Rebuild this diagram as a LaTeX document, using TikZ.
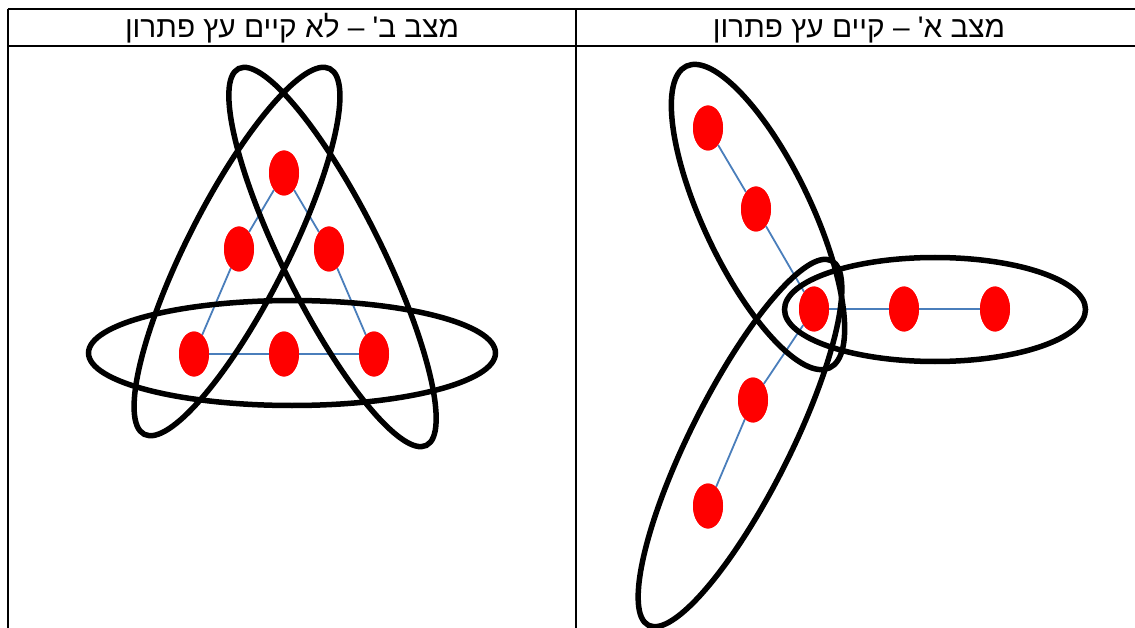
\documentclass[tikz,border=0pt]{standalone}
\usepackage{fontspec}
\usetikzlibrary{shapes.geometric}
\TeXXeTstate=1
\newfontfamily\hebfont[Script=Hebrew,Ligatures=ResetAll]{Liberation Sans}
\definecolor{linkblue}{HTML}{4A7EBB}
\definecolor{dotred}{HTML}{FF0000}
\tikzset{
  dot/.style={ellipse, fill=dotred, draw=none, minimum width=30pt, minimum height=45pt, inner sep=0pt},
  link/.style={draw=linkblue, line width=1.8pt},
  ring/.style={draw=black, line width=5.5pt},
  grid/.style={draw=black, line width=2pt},
  hdr/.style={anchor=base, inner sep=0pt, font=\hebfont\fontsize{29.8}{34}\selectfont}
}
\begin{document}
\begin{tikzpicture}[x=1pt,y=1pt]
\useasboundingbox (0,0) rectangle (1135,-628);
\clip (0,0) rectangle (1135,-628);
% table
\coordinate (tl) at (7.5,-9);
\coordinate (tr) at (1145,-9);
\coordinate (hl) at (7.5,-46.5);
\coordinate (hr) at (1145,-46.5);
\coordinate (bl) at (7.5,-640);
\coordinate (mt) at (576,-9);
\coordinate (mb) at (576,-640);
\draw[grid] (tl) -- (tr);
\draw[grid] (hl) -- (hr);
\draw[grid] (tl) -- (bl);
\draw[grid] (mt) -- (mb);
\node[hdr] (hb) at (292,-38) {\beginR מצב ב' – לא קיים עץ פתרון\endR};
\node[hdr] (ha) at (859,-38) {\beginR מצב א' – קיים עץ פתרון\endR};
% left panel dots
\node[dot] (t)  at (284,-173) {};
\node[dot] (l)  at (239,-249) {};
\node[dot] (r)  at (329,-249) {};
\node[dot] (bl1) at (194,-354) {};
\node[dot] (bm) at (284,-354) {};
\node[dot] (br) at (374,-354) {};
\draw[link] (bl1) -- (l) -- (t) -- (r) -- (br);
\draw[link] (bl1) -- (bm) -- (br);
% right panel dots
\node[dot] (c)  at (814,-309) {};
\node[dot] (u1) at (756,-209) {};
\node[dot] (u2) at (708,-128) {};
\node[dot] (h1) at (904,-309) {};
\node[dot] (h2) at (995,-309) {};
\node[dot] (d1) at (753,-400) {};
\node[dot] (d2) at (708,-506) {};
\draw[link] (u2) -- (u1) -- (c) -- (h1) -- (h2);
\draw[link] (c) -- (d1) -- (d2);
% left panel rings
\draw[ring] (292,-353) ellipse [x radius=203.5, y radius=52.5];
\draw[ring, rotate around={-63.5:(332.5,-257)}] (332.5,-257) ellipse [x radius=210.5, y radius=49];
\draw[ring, rotate around={63.1:(237,-251.5)}] (237,-251.5) ellipse [x radius=205, y radius=50];
% right panel rings
\draw[ring] (935,-309.5) ellipse [x radius=150.5, y radius=52];
\draw[ring, rotate around={-64.6:(758,-217)}] (758,-217) ellipse [x radius=167, y radius=54];
\draw[ring, rotate around={63.35:(740,-443)}] (740,-443) ellipse [x radius=204, y radius=50];
% redraw dots above rings
\foreach \n in {t,l,r,bl1,bm,br,c,u1,u2,h1,h2,d1,d2} {\fill[dotred] (\n.center) ellipse [x radius=15, y radius=22.5];}
\end{tikzpicture}
\end{document}
